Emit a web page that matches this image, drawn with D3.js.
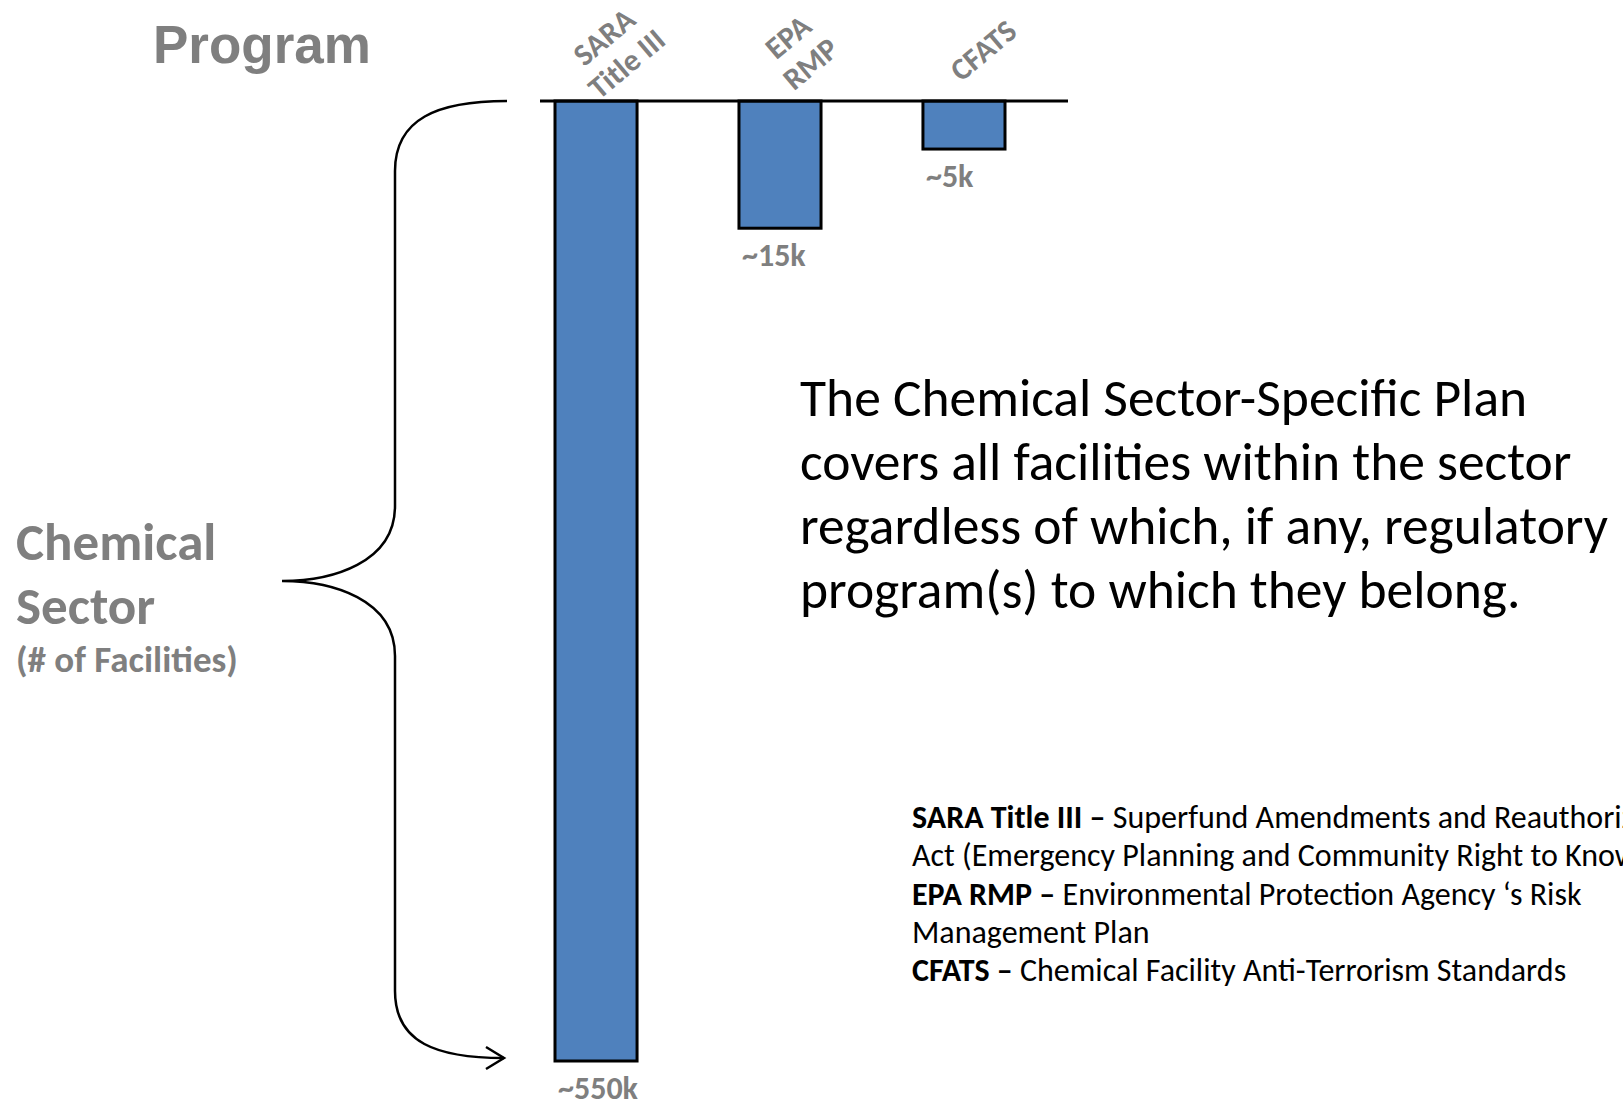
<!DOCTYPE html>
<html>
<head>
<meta charset="utf-8">
<script src="https://cdn.jsdelivr.net/npm/d3@7"></script>
<style>
  body { margin: 0; background: #fff; }
  svg { display: block; }
</style>
</head>
<body>
<div id="chart"></div>
<script>
// programs and approximate facility counts (thousands)
var categories = ["SARA Title III", "EPA RMP", "CFATS"];
var categoryLines = [["SARA", "Title III"], ["EPA", "RMP"], ["CFATS"]];
var facilities = [550, 15, 5];
var valueLabels = ["~550k", "~15k", "~5k"];

var noteLines = [
  "The Chemical Sector-Specific Plan",
  "covers all facilities within the sector",
  "regardless of which, if any, regulatory",
  "program(s) to which they belong."
];

// [bold part, regular part]
var glossaryLines = [
  ["SARA Title III \u2013", " Superfund Amendments and Reauthorization"],
  ["", "Act (Emergency Planning and Community Right to Know)"],
  ["EPA RMP \u2013", " Environmental Protection Agency \u2018s Risk"],
  ["", "Management Plan"],
  ["CFATS \u2013", " Chemical Facility Anti-Terrorism Standards"]
];

var W = 1623, H = 1109
var GRAY = "#7f7f7f"
var BODY = "Calibri, Carlito, Lato, sans-serif"

var svg = d3.select("#chart").append("svg")
  .attr("width", W)
  .attr("height", H)

// bars hang down from the axis, drawing scale compresses the big one
var x = d3.scaleBand()
  .domain(categories)
  .range([555, 1005])
  .paddingInner(0.554)

var y = d3.scaleSymlog()
  .constant(32)
  .domain([0, 550])
  .range([101, 1061])

svg.selectAll("rect.bar")
  .data(categories)
  .enter()
  .append("rect")
  .attr("class", "bar")
  .attr("x", function (d) { return x(d) })
  .attr("y", y(0))
  .attr("width", x.bandwidth())
  .attr("height", function (d, i) { return y(facilities[i]) - y(0) })
  .attr("fill", "#4f81bd")
  .attr("stroke", "#000")
  .attr("stroke-width", 3)

// baseline
svg.append("line")
  .attr("x1", x.range()[0] - 15)
  .attr("x2", x.range()[1] + 63)
  .attr("y1", y(0))
  .attr("y2", y(0))
  .attr("stroke", "#000")
  .attr("stroke-width", 3)

// value labels under each bar
svg.selectAll("text.value")
  .data(categories)
  .enter()
  .append("text")
  .attr("class", "value")
  .attr("x", function (d) { return x(d) + 3 })
  .attr("y", function (d, i) { return y(facilities[i]) + 38 })
  .attr("font-family", BODY)
  .attr("font-weight", "bold")
  .attr("font-size", 32)
  .attr("fill", GRAY)
  .text(function (d, i) { return valueLabels[i] })

// rotated category labels
var catLabel = svg.selectAll("g.cat")
  .data(categories)
  .enter()
  .append("g")
  .attr("class", "cat")
  .attr("transform", function (d) {
    return "translate(" + (x(d) + x.bandwidth() / 2 + 19) + ",50) rotate(-40)"
  })

catLabel.each(function (d, i) {
  var lines = categoryLines[i]
  var lh = 35
  var t = d3.select(this).append("text")
    .attr("text-anchor", "middle")
    .attr("font-family", BODY)
    .attr("font-weight", "bold")
    .attr("font-size", 31)
    .attr("fill", GRAY)
  lines.forEach(function (s, k) {
    t.append("tspan")
      .attr("x", 0)
      .attr("y", (k - (lines.length - 1) / 2) * lh + 11)
      .text(s)
  })
})

// "Program" heading
svg.append("text")
  .attr("x", 153)
  .attr("y", 63)
  .attr("font-family", "Arial, 'Liberation Sans', sans-serif")
  .attr("font-weight", "bold")
  .attr("font-size", 53)
  .attr("fill", GRAY)
  .text("Program")

// left side caption
var cap = svg.append("text")
  .attr("font-family", BODY)
  .attr("font-weight", "bold")
  .attr("fill", GRAY)
cap.append("tspan").attr("x", 16).attr("y", 560).attr("font-size", 53).text("Chemical")
cap.append("tspan").attr("x", 16).attr("y", 624).attr("font-size", 53).text("Sector")
cap.append("tspan").attr("x", 16).attr("y", 672).attr("font-size", 37).text("(# of Facilities)")

// curly brace spanning the largest bar, with an arrow at its lower end
var yTop = y(0), yBot = y(d3.max(facilities)), yMid = (yTop + yBot) / 2
var bx = 395, tipX = 282, endX = 507
var p = d3.path()
p.moveTo(endX, yTop)
p.bezierCurveTo(endX - 70, yTop, bx, yTop + 18, bx, yTop + 70)
p.lineTo(bx, yMid - 75)
p.bezierCurveTo(bx, yMid - 18, tipX + 50, yMid, tipX, yMid)
p.bezierCurveTo(tipX + 50, yMid, bx, yMid + 18, bx, yMid + 75)
p.lineTo(bx, yBot - 70)
p.bezierCurveTo(bx, yBot - 18, endX - 70, yBot - 3, endX - 3, yBot - 3)
svg.append("path")
  .attr("d", p.toString())
  .attr("fill", "none")
  .attr("stroke", "#000")
  .attr("stroke-width", 2.5)

svg.append("path")
  .attr("d", d3.line()([[endX - 21, yBot - 14], [endX - 3, yBot - 3], [endX - 21, yBot + 8]]))
  .attr("fill", "none")
  .attr("stroke", "#000")
  .attr("stroke-width", 2.5)

// note text
svg.selectAll("text.note")
  .data(noteLines)
  .enter()
  .append("text")
  .attr("class", "note")
  .attr("x", 800)
  .attr("y", function (d, i) { return 416 + i * 64 })
  .attr("font-family", BODY)
  .attr("font-size", 53.5)
  .attr("fill", "#000")
  .text(function (d) { return d })

// glossary of programs (first two lines run past the right edge, as in the slide)
var gl = svg.selectAll("text.gloss")
  .data(glossaryLines)
  .enter()
  .append("text")
  .attr("class", "gloss")
  .attr("x", 912)
  .attr("y", function (d, i) { return 828 + i * 38.3 })
  .attr("font-family", BODY)
  .attr("font-size", 32)
  .attr("fill", "#000")
gl.append("tspan").attr("font-weight", "bold").text(function (d) { return d[0] })
gl.append("tspan").text(function (d) { return d[1] })
</script>
</body>
</html>
